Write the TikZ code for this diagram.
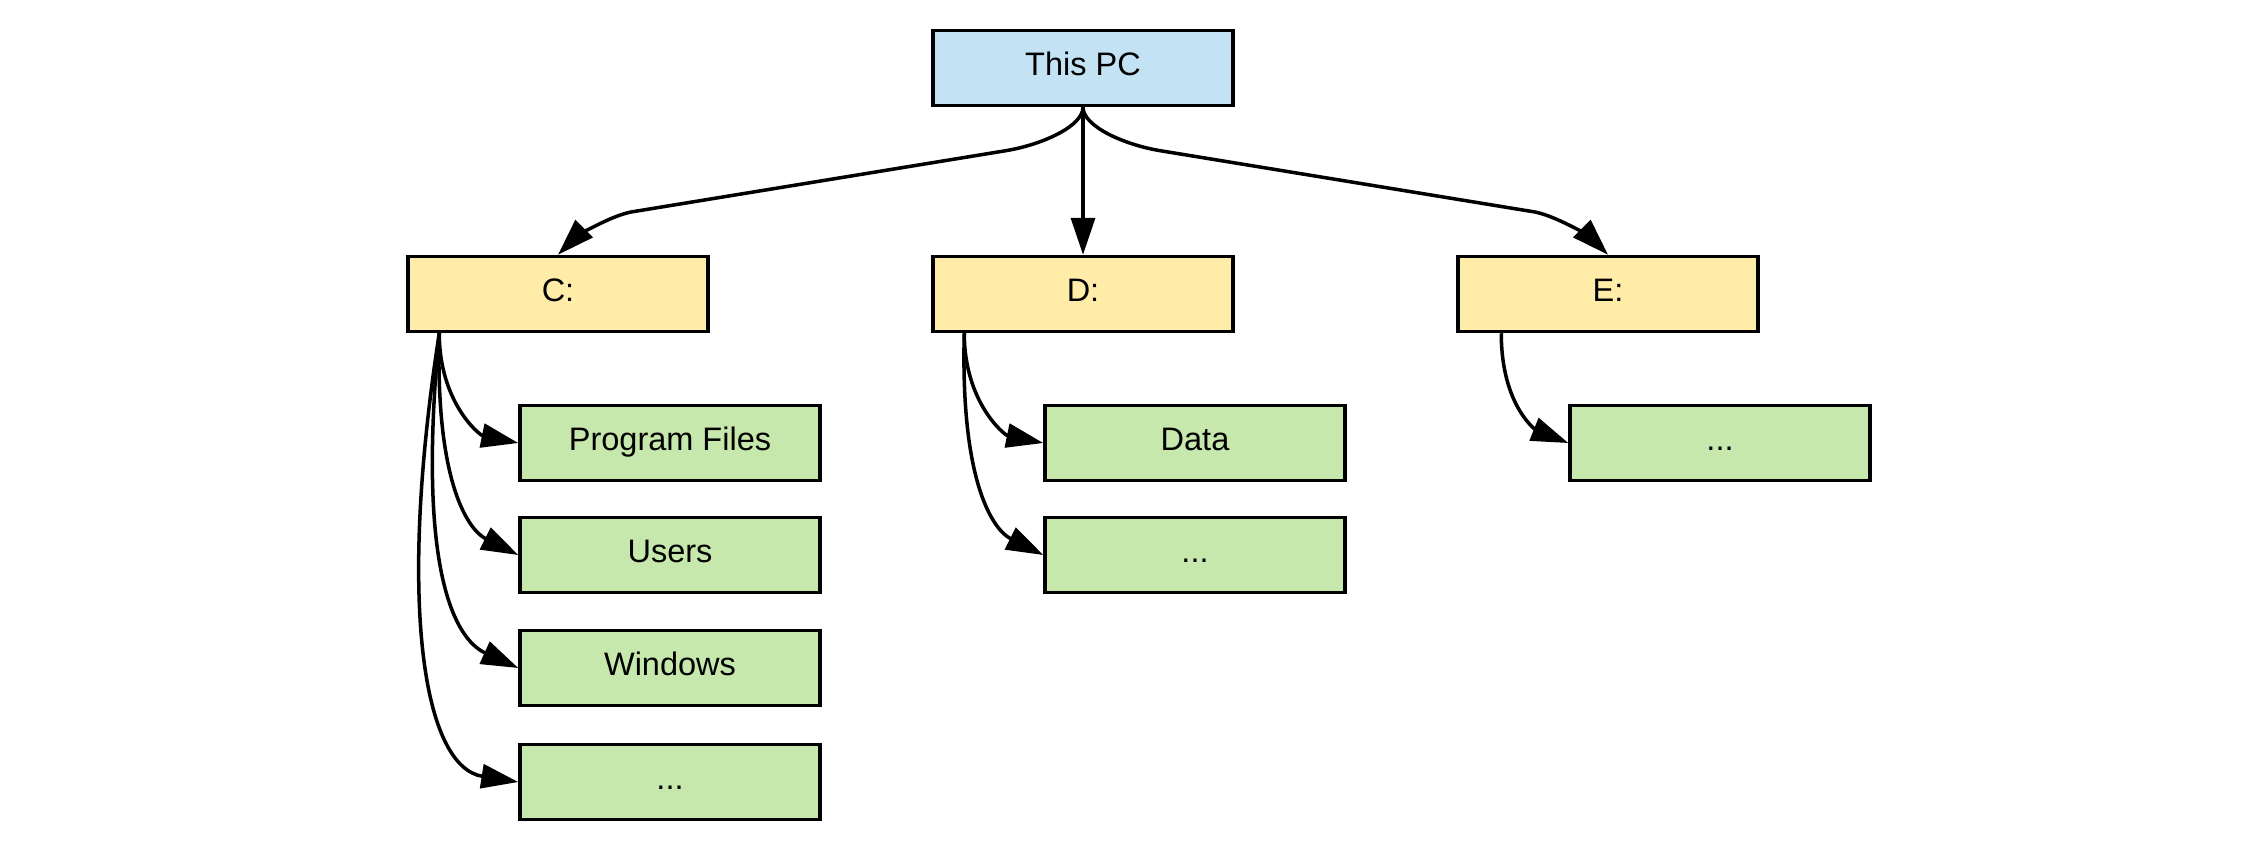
\documentclass[tikz,border=0pt]{standalone}
\usepackage{fontspec}
\setmainfont{Liberation Sans}
\usetikzlibrary{arrows.meta}
\definecolor{pcBlue}{HTML}{C3E3F5}
\definecolor{driveYellow}{HTML}{FFECA8}
\definecolor{folderGreen}{HTML}{C7E8AD}

\begin{document}
\begin{tikzpicture}[x=0.02cm,y=-0.02cm,
  box/.style={rectangle,draw,line width=2pt,minimum width=6cm,minimum height=1.5cm,
    text height=13.5pt,text depth=4.5pt,font=\fontsize{18.5}{22}\selectfont},
  link/.style={-{Triangle[length=0.74cm,width=0.48cm]},line width=2pt}]
\useasboundingbox (0,0) rectangle (2250,855);

% Root
\node[box,fill=pcBlue] (pc) at (1083,68) {This PC};

% Drives
\node[box,fill=driveYellow] (c) at (558,294) {C:};
\node[box,fill=driveYellow] (d) at (1083,294) {D:};
\node[box,fill=driveYellow] (e) at (1608,294) {E:};
\draw[link] (pc.south) .. controls +(0,19) and +(38,-6) .. (1004,151) -- (631,212)
  .. controls +(-25,5) and +(14,-14) .. (c.north);
\draw[link] (pc.south) -- (d.north);
\draw[link] (pc.south) .. controls +(0,19) and +(-38,-6) .. (1162,151) -- (1535,212)
  .. controls +(25,5) and +(-14,-14) .. (e.north);

% Folders on C:
\node[box,fill=folderGreen] (progfiles) at (670,443) {Program Files};
\node[box,fill=folderGreen] (users) at (670,555) {Users};
\node[box,fill=folderGreen] (windows) at (670,668) {Windows};
\node[box,fill=folderGreen] (cmore) at (670,782) {...};
\coordinate (cout) at ([xshift=0.66cm]c.south west);
\draw[link] (cout) .. controls +(0,69) and +(-39,-8) .. (progfiles.west);
\draw[link] (cout) .. controls +(-4,150) and +(-50,-25) .. (users.west);
\draw[link] (cout) .. controls +(-25,260) and +(-55,-25) .. (windows.west);
\draw[link] (cout) .. controls +(-42,270) and +(-95,-15) .. (cmore.west);

% Folders on D:
\node[box,fill=folderGreen] (data) at (1195,443) {Data};
\node[box,fill=folderGreen] (dmore) at (1195,555) {...};
\coordinate (dout) at ([xshift=0.66cm]d.south west);
\draw[link] (dout) .. controls +(0,69) and +(-39,-8) .. (data.west);
\draw[link] (dout) .. controls +(-4,150) and +(-50,-25) .. (dmore.west);

% Folders on E:
\node[box,fill=folderGreen] (emore) at (1720,443) {...};
\coordinate (eout) at ([xshift=0.9cm]e.south west);
\draw[link] (eout) .. controls +(0,75) and +(-30,-12) .. (emore.west);
\end{tikzpicture}
\end{document}
